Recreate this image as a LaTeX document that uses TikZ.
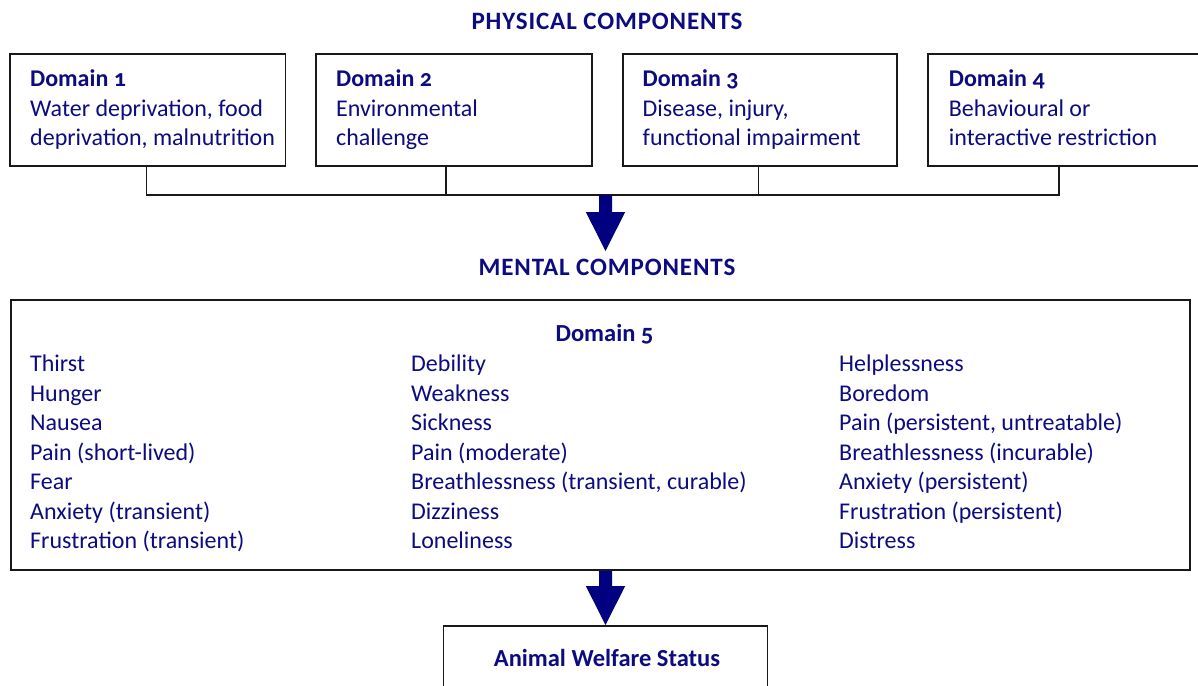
\documentclass[tikz,border=0pt]{standalone}
\usepackage{fontspec}
\setmainfont{Carlito}[Numbers=OldStyle]
\usetikzlibrary{calc}
\definecolor{wnavy}{RGB}{0,0,128}
\definecolor{wtxt}{RGB}{12,12,128}
\newcommand\colbox[1]{\parbox[t]{400pt}{\raggedright #1}}
\newcommand\blockarr[2]{\fill[wnavy] ([xshift=-6.5pt]#1) |- ([xshift=-19.7pt,yshift=39pt]#2) -- (#2) -- ([xshift=19.7pt,yshift=39pt]#2) -| ([xshift=6.5pt]#1) -- cycle;}
\begin{document}
\begin{tikzpicture}[x=1pt,y=-1pt,
  txtfont/.style={font=\fontsize{24}{29.5}\selectfont, text=wtxt},
  ttl/.style={font=\fontsize{24.5}{29.5}\selectfont\bfseries, text=wtxt, inner sep=0pt},
  capttl/.style={font=\fontsize{25}{29.5}\selectfont\bfseries\addfontfeature{LetterSpace=3.5}, text=wtxt, inner sep=0pt},
  boxline/.style={draw=black!90, line width=1.8pt},
  dombox/.style={boxline, anchor=north west, minimum height=112pt, inner sep=0pt},
  itemtxt/.style={txtfont, anchor=base west, inner sep=0pt},
  conn/.style={draw=black!90, line width=1.8pt}
]
\useasboundingbox (0,0) rectangle (1198,685);
\fill[white] (0,0) rectangle (1198,685);

% title
\node[capttl, anchor=base] (phys) at (607,29.3) {PHYSICAL COMPONENTS};

% domain boxes
\node[dombox, minimum width=275.5pt] (d1) at (9,53.3) {};
\node[dombox, minimum width=275.7pt] (d2) at (315,53.3) {};
\node[dombox, minimum width=274.3pt] (d3) at (621.7,53.3) {};
\node[dombox, minimum width=290pt] (d4) at (927.3,53.3) {};

\node[itemtxt] (d1t) at (30,86.7) {\colbox{\textbf{Domain 1}\\Water deprivation, food\\deprivation, malnutrition}};
\node[itemtxt] (d2t) at (336,86.7) {\colbox{\textbf{Domain 2}\\Environmental\\challenge}};
\node[itemtxt] (d3t) at (642.5,86.7) {\colbox{\textbf{Domain 3}\\Disease, injury,\\functional impairment}};
\node[itemtxt] (d4t) at (948.7,86.7) {\colbox{\textbf{Domain 4}\\Behavioural or\\interactive restriction}};

% bus connector
\coordinate (b1) at (146.5,195);
\coordinate (b2) at (445.7,195);
\coordinate (b3) at (758.5,195);
\coordinate (b4) at (1059,195);
\draw[conn] (b1 |- d1.south) -- (b1) -- (b4) -- (b4 |- d4.south);
\draw[conn] (b2 |- d2.south) -- (b2);
\draw[conn] (b3 |- d3.south) -- (b3);

% arrow 1
\coordinate (a1s) at (605.5,195);
\coordinate (a1e) at (605.5,251);
\blockarr{a1s}{a1e}

\node[capttl, anchor=base] (mental) at (607,275.7) {MENTAL COMPONENTS};

% domain 5
\node[boxline, minimum width=1179pt, minimum height=270pt, inner sep=0pt, anchor=north west] (d5) at (10,299.3) {};
\node[ttl, anchor=base] (d5t) at (604.5,341.7) {Domain 5};
\node[itemtxt] (c1) at (30,371.7) {\colbox{Thirst\\Hunger\\Nausea\\Pain (short-lived)\\Fear\\Anxiety (transient)\\Frustration (transient)}};
\node[itemtxt] (c2) at (411,371.7) {\colbox{Debility\\Weakness\\Sickness\\Pain (moderate)\\Breathlessness (transient, curable)\\Dizziness\\Loneliness}};
\node[itemtxt] (c3) at (839,371.7) {\colbox{Helplessness\\Boredom\\Pain (persistent, untreatable)\\Breathlessness (incurable)\\Anxiety (persistent)\\Frustration (persistent)\\Distress}};

% result box
\node[boxline, minimum width=324pt, minimum height=80pt, inner sep=0pt, anchor=north] (aws) at (605.5,625) {};
\node[ttl, anchor=base] (awst) at (607,666.7) {Animal Welfare Status};

% arrow 2
\coordinate (a2s) at (d5.south -| aws.north);
\blockarr{a2s}{aws.north}
\end{tikzpicture}
\end{document}
